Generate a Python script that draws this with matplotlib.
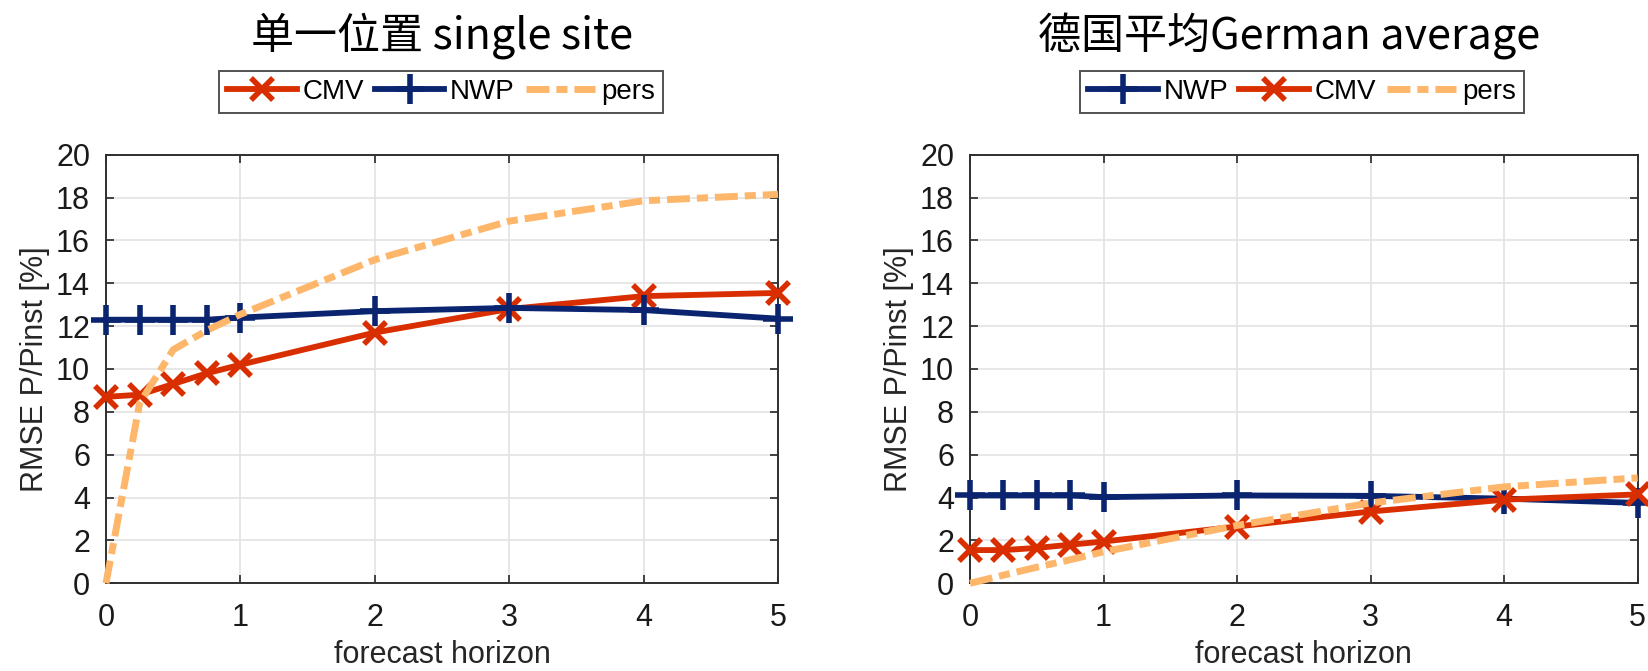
import matplotlib
matplotlib.use("Agg")
import matplotlib.pyplot as plt

# ---- data ----
horizon = [0, 0.25, 0.5, 0.75, 1, 2, 3, 4, 5]
x_ticks = [0, 1, 2, 3, 4, 5]
y_ticks = [0, 2, 4, 6, 8, 10, 12, 14, 16, 18, 20]

cmv_single = [8.7, 8.8, 9.3, 9.8, 10.2, 11.7, 12.8, 13.4, 13.55]
nwp_single = [12.3, 12.3, 12.3, 12.3, 12.4, 12.7, 12.85, 12.75, 12.35]
pers_single = [0, 8.4, 10.9, 11.8, 12.55, 15.1, 16.9, 17.85, 18.15]

nwp_avg = [4.1, 4.1, 4.1, 4.1, 4.02, 4.1, 4.08, 3.95, 3.75]
cmv_avg = [1.55, 1.55, 1.65, 1.8, 1.95, 2.65, 3.35, 3.9, 4.15]
pers_avg = [0, 0.38, 0.75, 1.1, 1.47, 2.7, 3.75, 4.5, 4.92]

title_single = "单一位置 single site"
title_avg = "德国平均German average"
xlabel = "forecast horizon"
ylabel = "RMSE P/Pinst [%]"

RED = "#D92E00"
BLUE = "#0B2470"
ORANGE = "#FDB66A"

plt.rcParams["font.family"] = ["Liberation Sans", "DejaVu Sans"]
cjk = ["Noto Sans CJK SC", "DejaVu Sans"]

fig = plt.figure(figsize=(16.48, 6.71), dpi=100)
W, H = 1648, 671

def make_axes(left_px, right_px):
    top_px, bot_px = 154.7, 583.3
    return fig.add_axes([left_px / W, 1 - bot_px / H,
                         (right_px - left_px) / W, (bot_px - top_px) / H])

ax1 = make_axes(106, 778)
ax2 = make_axes(970, 1637.7)

def style(ax):
    ax.set_xlim(0, 5)
    ax.set_ylim(0, 20)
    ax.set_xticks(x_ticks)
    ax.set_yticks(y_ticks)
    ax.grid(True, color="#E3E3E3", linewidth=1.2)
    ax.set_axisbelow(True)
    ax.tick_params(direction="in", length=6, width=1.2, top=True, right=True,
                   labelsize=22, colors="#262626")
    ax.tick_params(axis="y", pad=11.5)
    ax.tick_params(axis="x", pad=14)
    ax.tick_params(axis="both", labelcolor="#1a1a1a")
    for s in ax.spines.values():
        s.set_color("#303030")
        s.set_linewidth(1.4)
    ax.set_xlabel(xlabel, fontsize=22, color="#262626", labelpad=5)
    ax.set_ylabel(ylabel, fontsize=22, color="#262626", labelpad=4)

lw = 4.2
pers_dash = (3.3, 1.0, 1.6, 1.0)

def plot_cmv(ax, y):
    return ax.plot(horizon, y, color=RED, lw=lw, marker="x", ms=16, mew=4,
                   label="CMV", clip_on=False, zorder=3)[0]

def plot_nwp(ax, y):
    return ax.plot(horizon, y, color=BLUE, lw=lw, marker="+", ms=22, mew=4,
                   label="NWP", clip_on=False, zorder=3)[0]

def plot_pers(ax, y):
    l, = ax.plot(horizon, y, color=ORANGE, lw=5, label="pers",
                 clip_on=False, zorder=4)
    l.set_dashes(pers_dash)
    return l

h1 = plot_cmv(ax1, cmv_single)
h2 = plot_nwp(ax1, nwp_single)
h3 = plot_pers(ax1, pers_single)

g1 = plot_nwp(ax2, nwp_avg)
g2 = plot_cmv(ax2, cmv_avg)
g3 = plot_pers(ax2, pers_avg)

style(ax1)
style(ax2)

leg_kw = dict(ncol=3, fontsize=20, frameon=True, fancybox=False,
              edgecolor="#262626", handlelength=2.5, handletextpad=0.2,
              columnspacing=0.4, borderpad=0.3, borderaxespad=0,
              loc="center")
leg1 = fig.legend([h1, h2, h3], ["CMV", "NWP", "pers"],
                  bbox_to_anchor=(441 / W, 1 - 92 / H), **leg_kw)
leg2 = fig.legend([g1, g2, g3], ["NWP", "CMV", "pers"],
                  bbox_to_anchor=(1302 / W, 1 - 92 / H), **leg_kw)
for leg in (leg1, leg2):
    leg.get_frame().set_linewidth(1.4)

fig.text(442 / W, 1 - 36 / H, title_single, fontsize=31, family=cjk,
         ha="center", va="center")
fig.text(1289 / W, 1 - 36 / H, title_avg, fontsize=31, family=cjk,
         ha="center", va="center")

fig.savefig("out.png", dpi=100)
